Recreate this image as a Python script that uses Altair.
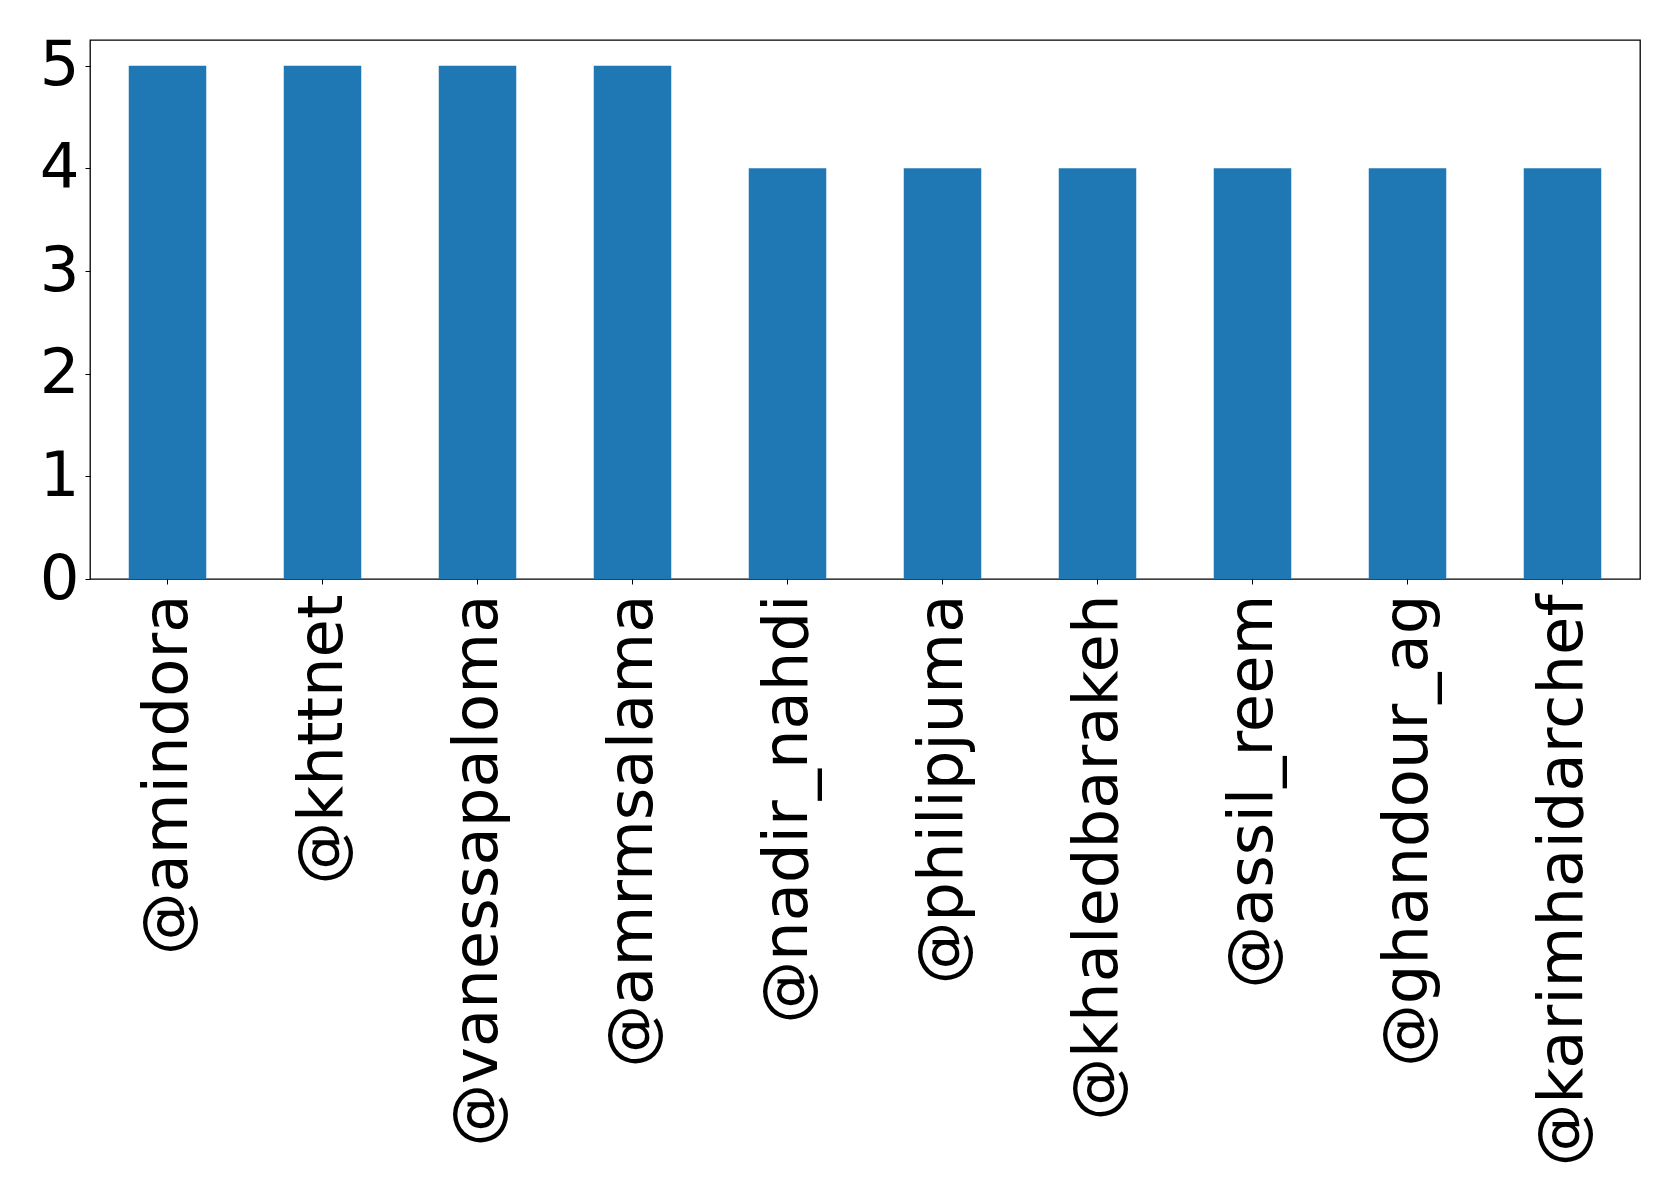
import altair as alt
import pandas as pd

users = ["@amindora", "@khttnet", "@vanessapaloma", "@amrmsalama", "@nadir_nahdi",
         "@philipjuma", "@khaledbarakeh", "@assil_reem", "@ghandour_ag", "@karimhaidarchef"]
counts = [5, 5, 5, 5, 4, 4, 4, 4, 4, 4]

df = pd.DataFrame({"user": users, "count": counts})

chart = alt.Chart(df).mark_bar(color="#1f77b4").encode(
    x=alt.X("user:N", sort=users, title=None,
            scale=alt.Scale(paddingInner=0.5, paddingOuter=0.25),
            axis=alt.Axis(labelAngle=270, labelFontSize=62.5, labelFont="DejaVu Sans",
                          labelColor="black", labelPadding=10, tickSize=5,
                          tickColor="black", domain=False, labelLimit=1000)),
    y=alt.Y("count:Q", title=None,
            scale=alt.Scale(domain=[0, 5.25], nice=False),
            axis=alt.Axis(values=[0, 1, 2, 3, 4, 5], format="d", grid=False,
                          labelFontSize=62.5, labelFont="DejaVu Sans", labelColor="black",
                          labelPadding=6, tickSize=5, tickColor="black", domain=False)),
).properties(
    width=1550, height=539,
    autosize=alt.AutoSizeParams(type="none"),
    padding={"left": 82, "top": 32, "right": 30, "bottom": 600},
).configure_view(stroke="black", strokeWidth=1.3)

chart.save("out.html", embed_options={"renderer": "svg", "actions": False})
